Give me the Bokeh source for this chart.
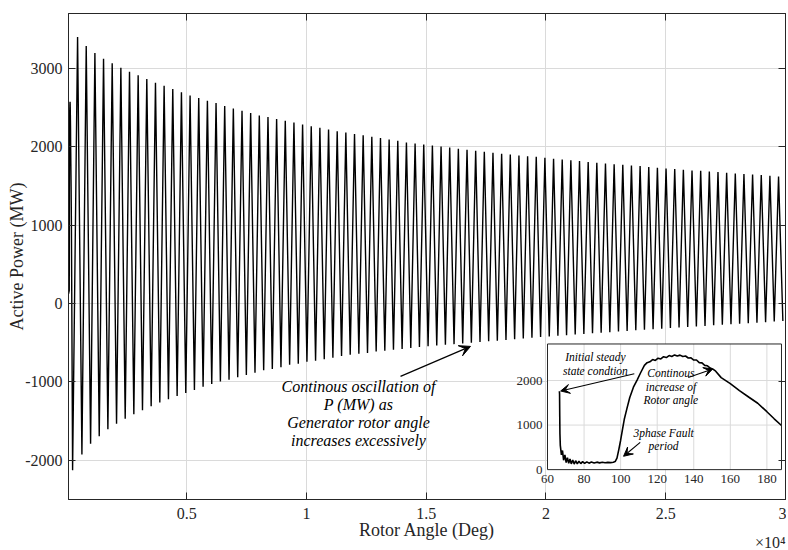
from bokeh.plotting import figure
from bokeh.models import Range1d, FixedTicker, LinearAxis, Arrow, VeeHead, Title
from bokeh.core.properties import value
from bokeh.embed import file_html
from bokeh.resources import INLINE

# ---------------- data ----------------
# early part of the trajectory (also shown in the inset): rotor angle (deg) / active power (MW)
early_angle = [66.5, 66.6, 66.7, 66.8, 67.0, 67.6, 68.2, 68.8, 69.5, 70.2, 70.9, 71.6, 72.3, 73.0,
               73.8, 74.6, 75.4, 76.3, 77.2, 78.2, 79.2, 80.3, 81.5, 82.7, 84.0, 85.5, 87.0, 88.5,
               90.0, 91.5, 93.0, 94.5, 96.0, 97.0, 98.0, 99.0, 100.0, 101.0, 102.0, 103.5, 105.0,
               107.0, 109.0, 111.0, 113.0, 114.5, 116.0, 117.5, 119.0, 120.5, 122.0, 123.5, 125.0,
               126.5, 128.0, 129.5, 131.0, 132.5, 134.0, 135.5, 137.0, 138.5, 140.0, 141.5, 143.0,
               144.5, 146.0, 147.5, 149.0, 150.5, 152.0, 155.0, 160.0, 165.0, 170.0, 175.0, 180.0,
               184.0, 188.0]
early_power = [1760, 1700, 1200, 800, 545, 330, 430, 210, 330, 160, 270, 140, 240, 130,
               215, 125, 200, 130, 190, 135, 180, 140, 175, 145, 170, 150, 168, 152,
               165, 155, 162, 158, 165, 180, 260, 450, 660, 900, 1130, 1380, 1620,
               1850, 2010, 2180, 2340, 2400, 2420, 2470, 2450, 2500, 2485, 2535, 2515,
               2560, 2540, 2575, 2550, 2570, 2540, 2550, 2505, 2510, 2460, 2460, 2400,
               2395, 2340, 2330, 2280, 2255, 2210, 2065, 1930, 1775, 1630, 1490, 1300,
               1141, 990]

# pole-slip oscillation: troughs and peaks of every cycle
trough_angle = [237, 626, 988, 1349, 1710, 2072, 2433, 2794, 3155, 3517, 3878, 4239, 4601, 4962,
                5323, 5685, 6046, 6407, 6768, 7130, 7491, 7852, 8214, 8575, 8936, 9298, 9659,
                10020, 10381, 10743, 11104, 11465, 11827, 12188, 12549, 12911, 13272, 13633,
                13994, 14356, 14717, 15078, 15440, 15801, 16162, 16524, 16885, 17246, 17607,
                17969, 18330, 18691, 19053, 19414, 19775, 20137, 20498, 20859, 21220, 21582,
                21943, 22304, 22666, 23027, 23388, 23750, 24111, 24472, 24833, 25195, 25556,
                25917, 26279, 26640, 27001, 27363, 27724, 28085, 28446, 28808, 29169, 29530]
trough_power = [-2128, -1925, -1789, -1692, -1603, -1534, -1471, -1412, -1361, -1310, -1263,
                -1221, -1178, -1140, -1102, -1063, -1025, -996, -971, -941, -911, -882, -852,
                -835, -814, -780, -767, -742, -729, -712, -691, -669, -653, -640, -631, -611,
                -602, -589, -580, -567, -555, -545, -536, -527, -518, -509, -500, -491, -482,
                -473, -464, -455, -446, -437, -428, -420, -412, -404, -396, -388, -380, -372,
                -365, -357, -350, -342, -335, -328, -320, -313, -306, -299, -292, -285, -278,
                -271, -265, -258, -251, -244, -237, -230]
peak_angle = [445, 806, 1168, 1529, 1890, 2252, 2613, 2974, 3335, 3697, 4058, 4419, 4781, 5142,
              5503, 5865, 6226, 6587, 6948, 7310, 7671, 8032, 8394, 8755, 9116, 9478, 9839,
              10200, 10561, 10923, 11284, 11645, 12007, 12368, 12729, 13091, 13452, 13813,
              14174, 14536, 14897, 15258, 15620, 15981, 16342, 16704, 17065, 17426, 17787,
              18149, 18510, 18871, 19233, 19594, 19955, 20317, 20678, 21039, 21400, 21762,
              22123, 22484, 22846, 23207, 23568, 23930, 24291, 24652, 25013, 25375, 25736,
              26097, 26459, 26820, 27181, 27543, 27904, 28265, 28626, 28988, 29349, 29710]
peak_power = [3400, 3285, 3195, 3124, 3064, 3009, 2958, 2911, 2864, 2817, 2779, 2736, 2694,
              2655, 2621, 2587, 2557, 2519, 2489, 2460, 2430, 2400, 2378, 2353, 2332, 2310,
              2285, 2263, 2243, 2221, 2199, 2183, 2161, 2148, 2128, 2110, 2093, 2077, 2055,
              2042, 2029, 2017, 2004, 1991, 1975, 1962, 1949, 1936, 1923, 1911, 1902, 1889,
              1880, 1872, 1860, 1847, 1838, 1829, 1817, 1804, 1796, 1787, 1778, 1770, 1761,
              1753, 1740, 1732, 1723, 1715, 1706, 1698, 1694, 1685, 1677, 1668, 1660, 1651,
              1647, 1638, 1630, 1621]
last_trough_angle = [29890]
last_trough_power = [-224]

x_ticks = [5000, 10000, 15000, 20000, 25000, 30000]
x_tick_labels = ["0.5", "1", "1.5", "2", "2.5", "3"]
x_multiplier = "\u00d710\u2074"
y_ticks = [-2000, -1000, 0, 1000, 2000, 3000]
y_tick_labels = ["-2000", "-1000", "0", "1000", "2000", "3000"]

inset_x_ticks = [60, 80, 100, 120, 140, 160, 180]
inset_x_tick_labels = ["60", "80", "100", "120", "140", "160", "180"]
inset_y_ticks = [0, 1000, 2000]
inset_y_tick_labels = ["0", "1000", "2000"]

main_note = ["Continous oscillation of", "P (MW) as", "Generator rotor angle",
             "increases excessively"]
note_steady = ["Initial steady", "state condtion"]
note_increase = ["Continous", "increase of", "Rotor angle"]
note_fault = ["3phase Fault", "period"]

# ---------------- assemble the trajectory ----------------
angle = list(early_angle)
power = list(early_power)
for ta, tp, pa, pp in zip(trough_angle, trough_power, peak_angle, peak_power):
    angle += [ta, pa]
    power += [tp, pp]
angle += last_trough_angle
power += last_trough_power

FONT = "Liberation Serif"
INK = "#262626"
GRID = "#dadada"
FW, FH = 717, 486

p = figure(frame_width=FW, frame_height=FH,
           x_range=Range1d(66, 30000), y_range=Range1d(-2500, 3700),
           output_backend="svg", toolbar_location=None,
           min_border_left=68, min_border_right=1, min_border_top=13, min_border_bottom=51,
           background_fill_color="white", border_fill_color="white")

p.outline_line_color = INK
p.outline_line_width = 1


def style_axis(ax):
    ax.axis_line_color = INK
    ax.major_tick_line_color = INK
    ax.major_tick_in = 7
    ax.major_tick_out = 0
    ax.minor_tick_line_color = None
    ax.major_label_text_font = FONT
    ax.major_label_text_font_size = "16px"
    ax.major_label_text_color = INK
    ax.axis_label_text_font = FONT
    ax.axis_label_text_font_size = "18px"
    ax.axis_label_text_font_style = "normal"
    ax.axis_label_text_color = INK


xa = p.xaxis[0]
ya = p.yaxis[0]
xa.ticker = FixedTicker(ticks=x_ticks)
ya.ticker = FixedTicker(ticks=y_ticks)
xa.major_label_overrides = dict(zip(x_ticks, x_tick_labels))
ya.major_label_overrides = dict(zip(y_ticks, y_tick_labels))
style_axis(xa)
style_axis(ya)
xa.axis_label = "Rotor Angle (Deg)"
ya.axis_label = "Active Power (MW)"
xa.major_label_standoff = 8
xa.axis_label_standoff = -2
ya.major_label_standoff = 6
ya.axis_label_standoff = -5

for loc, ticks in (("right", y_ticks), ("above", x_ticks)):
    ax = LinearAxis(ticker=FixedTicker(ticks=ticks))
    style_axis(ax)
    ax.major_label_overrides = {t: "" for t in ticks}
    ax.major_label_text_font_size = "0px"
    ax.major_label_standoff = 0
    p.add_layout(ax, loc)

# multiplier of the x axis, placed in the panel below the x axis
p.add_layout(Title(text=x_multiplier, align="right", vertical_align="middle", standoff=-26,
                   offset=0, text_font=FONT, text_font_size="16px",
                   text_font_style="normal", text_color=INK), "below")

p.xgrid.ticker = FixedTicker(ticks=x_ticks)
p.ygrid.ticker = FixedTicker(ticks=y_ticks)
p.grid.grid_line_color = GRID
p.grid.grid_line_width = 1

# main trajectory
p.line(angle, power, line_color="black", line_width=1.4)

# main annotation
p.text(x=[12173] * len(main_note), y=[-1062] * len(main_note), text=main_note,
       y_offset=[0, 18, 36, 54], text_align="center", text_baseline="middle",
       text_font=value(FONT), text_font_style="italic", text_font_size="16px",
       text_color="black")
p.add_layout(Arrow(x_start=13927, y_start=-929, x_end=16849, y_end=-547,
                   line_color="black", line_width=1.2,
                   end=VeeHead(size=11, fill_color="black", line_color="black")))

# ---------------- inset ----------------
ix0, ix1 = 60, 188
iy0, iy1 = 0, 2820
tx0, tx1 = 20064, 29833
ty0, ty1 = -2119, -516
sub = p.subplot(x_source=Range1d(ix0, ix1), y_source=Range1d(iy0, iy1),
                x_target=Range1d(tx0, tx1), y_target=Range1d(ty0, ty1))


def to_main(xi, yi):
    return (tx0 + (xi - ix0) * (tx1 - tx0) / (ix1 - ix0),
            ty0 + (yi - iy0) * (ty1 - ty0) / (iy1 - iy0))


sub.quad(left=[ix0], right=[ix1], bottom=[iy0], top=[iy1], fill_color="white", line_color=None)
gx = inset_x_ticks[1:]
sub.segment(x0=gx, y0=[iy0] * len(gx), x1=gx, y1=[iy1] * len(gx), line_color=GRID, line_width=1)
gy = inset_y_ticks[1:]
sub.segment(x0=[ix0] * len(gy), y0=gy, x1=[ix1] * len(gy), y1=gy, line_color=GRID, line_width=1)
sub.line(early_angle, early_power, line_color="black", line_width=1.6)
sub.quad(left=[ix0], right=[ix1], bottom=[iy0], top=[iy1], fill_color=None,
         line_color=INK, line_width=1)
sub.text(x=inset_x_ticks, y=[iy0] * len(inset_x_ticks), text=inset_x_tick_labels,
         y_offset=5, text_align="center", text_baseline="top", text_font=value(FONT),
         text_font_size="13px", text_color=INK)
sub.text(x=[ix0] * len(inset_y_ticks), y=inset_y_ticks, text=inset_y_tick_labels,
         x_offset=-5, text_align="right", text_baseline="middle", text_font=value(FONT),
         text_font_size="13px", text_color=INK)

for lines, (ax_, ay_), step in ((note_steady, (86.2, 2535), 14),
                                (note_increase, (127.5, 2161), 13.5),
                                (note_fault, (123.5, 828), 13.5)):
    sub.text(x=[ax_] * len(lines), y=[ay_] * len(lines), text=lines,
             y_offset=[i * step for i in range(len(lines))], text_align="center",
             text_baseline="middle", text_font=value(FONT), text_font_style="italic",
             text_font_size="11.5px", text_color="black")

for (xs, ys), (xe, ye) in (((107.5, 2150), (67.2, 1765)),
                           ((137.0, 2070), (150.4, 2260)),
                           ((110.7, 611), (101.6, 300))):
    (mxs, mys), (mxe, mye) = to_main(xs, ys), to_main(xe, ye)
    p.add_layout(Arrow(x_start=mxs, y_start=mys, x_end=mxe, y_end=mye,
                       line_color="black", line_width=1.1,
                       end=VeeHead(size=9, fill_color="black", line_color="black")))

open("out.html", "w").write(file_html(p, INLINE))
